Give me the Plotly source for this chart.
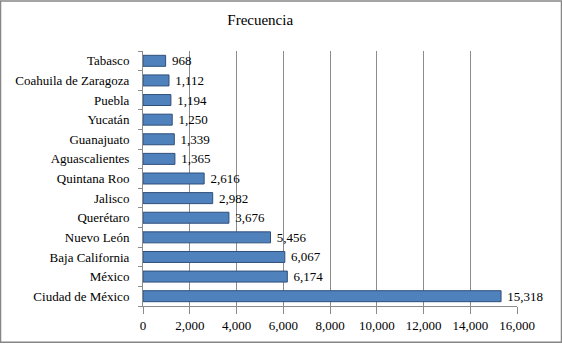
import plotly.graph_objects as go

states = ["Ciudad de México", "México", "Baja California", "Nuevo León", "Querétaro",
          "Jalisco", "Quintana Roo", "Aguascalientes", "Guanajuato", "Yucatán",
          "Puebla", "Coahuila de Zaragoza", "Tabasco"]
freq = [15318, 6174, 6067, 5456, 3676, 2982, 2616, 1365, 1339, 1250, 1194, 1112, 968]
x_ticks = [0, 2000, 4000, 6000, 8000, 10000, 12000, 14000, 16000]

font = "Liberation Serif"

fig = go.Figure(go.Bar(
    y=states, x=freq, orientation="h",
    marker=dict(color="#4F81BD", line=dict(color="#2F4F7A", width=1)),
    width=0.56,
    text=["\u00a0" + f"{v:,}" for v in freq], textposition="outside", constraintext="none",
    textfont=dict(family=font, size=13, color="black"),
    cliponaxis=False,
))

fig.update_layout(
    width=562, height=345,
    margin=dict(l=143, r=45, t=51, b=37),
    paper_bgcolor="white", plot_bgcolor="white",
    showlegend=False,
    title=dict(text="Frecuencia", x=0.463, xanchor="center", y=0.942, yanchor="middle",
               font=dict(family=font, size=15, color="black")),
    font=dict(family=font, size=13, color="black"),
    xaxis=dict(range=[0, 16000], tickvals=x_ticks, tickformat=",",
               showgrid=True, gridcolor="#8C8C8C", gridwidth=1,
               showline=True, linecolor="#8C8C8C", ticks="outside", ticklen=7,
               tickcolor="#8C8C8C", zeroline=False,
               tickfont=dict(family=font, size=13)),
    yaxis=dict(range=[-0.5, 12.5], showline=True, linecolor="#8C8C8C",
               ticks="outside", ticklen=4, tickcolor="#8C8C8C", tickson="boundaries",
               showgrid=False, tickfont=dict(family=font, size=13), ticklabelstandoff=10),
    shapes=[dict(type="rect", xref="paper", yref="paper", x0=-142.5/374, x1=1+44.5/374,
                 y0=-36.5/257, y1=1+50.5/257, line=dict(color="#868686", width=1.5))],
)

fig.write_html("out.html", config={"displayModeBar": False},
               post_script="document.body.style.margin='0';document.body.style.overflow='hidden';")
